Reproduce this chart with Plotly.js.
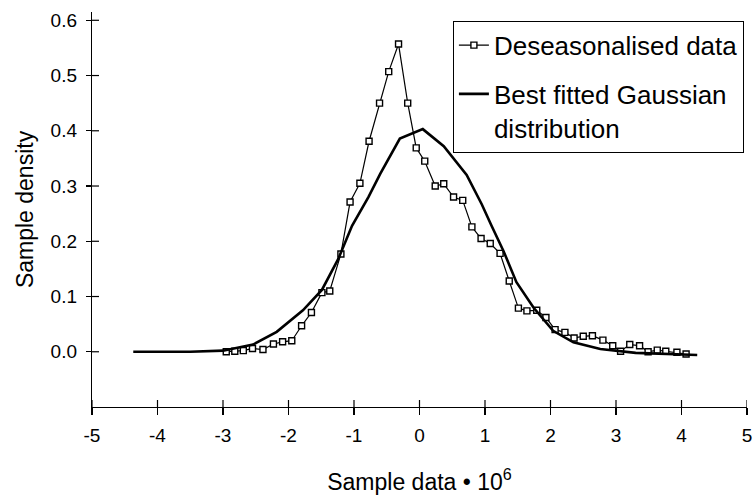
<!DOCTYPE html>
<html>
<head>
<meta charset="utf-8">
<script src="https://cdn.plot.ly/plotly-3.0.1.min.js"></script>
<style>html,body{margin:0;padding:0;background:#fff;}#chart{width:753px;height:502px;}</style>
</head>
<body>
<div id="chart"></div>
<script>
// Deseasonalised data (bin centres and sample density)
var dataX = [-2.95,-2.82,-2.69,-2.55,-2.39,-2.23,-2.09,-1.95,-1.80,-1.65,-1.49,-1.37,-1.20,-1.06,-0.91,-0.77,-0.61,-0.47,-0.32,-0.18,-0.05,0.08,0.24,0.37,0.52,0.66,0.80,0.94,1.08,1.23,1.37,1.51,1.64,1.79,1.93,2.07,2.22,2.36,2.50,2.64,2.80,2.95,3.07,3.21,3.36,3.49,3.63,3.76,3.93,4.07];
var dataY = [0.000,0.001,0.002,0.006,0.004,0.014,0.018,0.020,0.047,0.071,0.107,0.110,0.177,0.271,0.305,0.381,0.450,0.507,0.557,0.450,0.369,0.345,0.300,0.304,0.280,0.274,0.226,0.205,0.196,0.178,0.128,0.079,0.074,0.075,0.062,0.040,0.035,0.025,0.028,0.029,0.021,0.011,0.001,0.013,0.011,0.000,0.003,0.001,-0.001,-0.004];
// Best fitted Gaussian distribution
var gaussX = [-4.37,-3.50,-3.00,-2.54,-2.18,-1.78,-1.49,-1.24,-1.03,-0.78,-0.60,-0.30,0.05,0.37,0.72,0.95,1.10,1.28,1.48,1.74,2.04,2.35,2.76,3.30,4.24];
var gaussY = [0.000,0.000,0.002,0.013,0.036,0.075,0.112,0.168,0.228,0.280,0.322,0.386,0.403,0.372,0.320,0.267,0.228,0.183,0.126,0.080,0.038,0.017,0.005,-0.002,-0.006];
// Tick labels
var xTicks = [-5,-4,-3,-2,-1,0,1,2,3,4,5];
var yTicks = [0.0,0.1,0.2,0.3,0.4,0.5,0.6];
var seriesNames = ['Deseasonalised data', 'Best fitted Gaussian<br>distribution'];

var font = 'Liberation Sans, Arial, Helvetica, sans-serif';
var xRange = [-5, 5];
var yRange = [-0.1, 0.615];
var W = 753, H = 502;
var M = {l: 92, r: 6, t: 12, b: 95};

var traces = [
  {
    x: dataX, y: dataY, name: seriesNames[0], type: 'scatter', mode: 'lines+markers',
    line: {color: '#000', width: 1.2},
    marker: {symbol: 'square', size: 6, color: '#fff', line: {color: '#000', width: 1.4}},
    legendgroup: 'a'
  },
  {
    x: gaussX, y: gaussY, name: seriesNames[1], type: 'scatter', mode: 'lines',
    line: {color: '#000', width: 2.6},
    legendgroup: 'b'
  }
];

// inner halves of the cross-shaped tick marks (7 px), placed from the tick arrays
var innerLen = 7;
var yPerPx = (yRange[1] - yRange[0]) / (H - M.t - M.b);
var xPerPx = (xRange[1] - xRange[0]) / (W - M.l - M.r);
var shapes = [];
xTicks.forEach(function (t) {
  shapes.push({type: 'line', xref: 'x', yref: 'y', layer: 'above',
    x0: t, x1: t, y0: yRange[0], y1: yRange[0] + innerLen * yPerPx,
    line: {color: '#000', width: 1.2}});
});
yTicks.forEach(function (t) {
  shapes.push({type: 'line', xref: 'x', yref: 'y', layer: 'above',
    y0: t, y1: t, x0: xRange[0], x1: xRange[0] + innerLen * xPerPx,
    line: {color: '#000', width: 1.2}});
});

var layout = {
  width: W, height: H,
  margin: M,
  paper_bgcolor: '#fff', plot_bgcolor: '#fff',
  font: {family: font, color: '#000'},
  showlegend: true,
  legend: {
    x: 0.551, y: 0.978, xanchor: 'left', yanchor: 'top',
    bgcolor: '#fff', bordercolor: '#000', borderwidth: 1,
    font: {family: font, size: 26, color: '#000'},
    traceorder: 'grouped', tracegroupgap: 12, valign: 'top',
    itemwidth: 30
  },
  xaxis: {
    range: xRange, tickvals: xTicks, ticktext: xTicks.map(String),
    showgrid: false, zeroline: false, showline: true, linecolor: '#000', linewidth: 1.2,
    ticks: 'outside', ticklen: 7, tickwidth: 1.2, tickcolor: '#000',
    tickfont: {family: font, size: 19}, ticklabelstandoff: 4,
    title: {text: 'Sample data \u2022 10<sup>6</sup>', font: {family: font, size: 23}, standoff: 28}
  },
  yaxis: {
    range: yRange, tickvals: yTicks, tickformat: '.1f',
    showgrid: false, zeroline: false, showline: true, linecolor: '#000', linewidth: 1.2,
    ticks: 'outside', ticklen: 5, tickwidth: 1.2, tickcolor: '#000',
    tickfont: {family: font, size: 19}, ticklabelstandoff: 5,
    title: {text: 'Sample density', font: {family: font, size: 23}, standoff: 10}
  },
  shapes: shapes
};

Plotly.newPlot('chart', traces, layout, {displayModeBar: false, staticPlot: true});
</script>
</body>
</html>
